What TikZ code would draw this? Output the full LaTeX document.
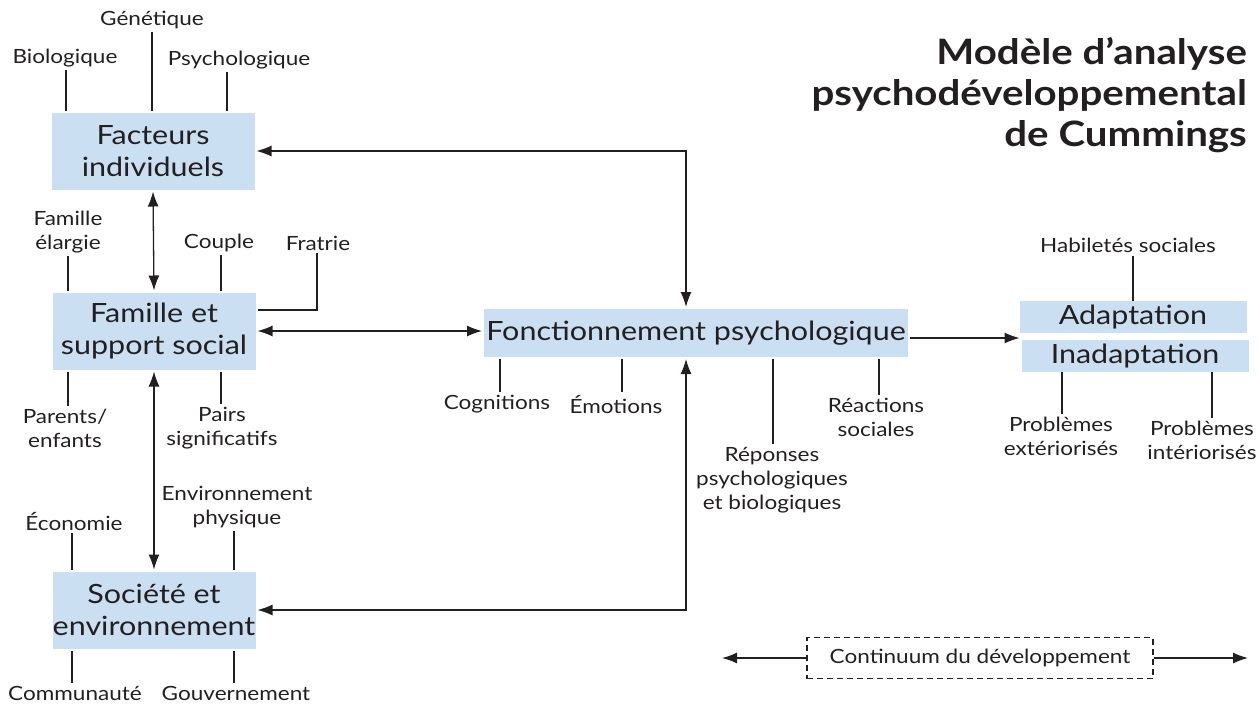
\documentclass[tikz,border=0pt]{standalone}
\usepackage{fontspec}
\setmainfont{Lato}[FakeStretch=1.15]
\usepackage{tikz}
\usetikzlibrary{arrows.meta,positioning,calc}
\definecolor{Boxblue}{HTML}{CADFF2}
\definecolor{Ink}{HTML}{231F20}
\tikzset{
    every node/.style={font=\fontsize{19.6}{24}\selectfont, text=Ink, align=center},
    factor/.style={
        fill=Boxblue, minimum width=203pt, minimum height=77pt,
        inner sep=0pt, outer sep=2pt,
        font=\fontsize{26.5}{32}\selectfont
    },
    outcome/.style={
        fill=Boxblue, minimum width=227pt, minimum height=32pt,
        inner sep=0pt, outer sep=0pt,
        font=\fontsize{26.5}{30}\selectfont
    },
    tag/.style={inner sep=3pt},
    tie/.style={draw=Ink, line width=1.2pt},
    link/.style={
        {Latex[length=15pt,width=11pt]}-{Latex[length=15pt,width=11pt]},
        draw=Ink, line width=1.3pt
    },
    flow/.style={
        -{Latex[length=15pt,width=11pt]}, draw=Ink, line width=1.3pt
    },
}

\begin{document}
\begin{tikzpicture}[x=1pt, y=-1pt]
    \useasboundingbox (0,0) rectangle (1258,705);

    % Nodes
    \node[factor] (facteurs) at (153,151) {Facteurs\\individuels};
    \node[factor] (famille) at (154,331) {Famille et\\support social};
    \node[factor] (societe) at (154,610) {Société et\\environnement};
    \node[factor, minimum width=424pt, minimum height=48pt] (fonct) at (696,333) {Fonctionnement psychologique};
    \node[outcome] (adapt) at (1133,317) {Adaptation};
    \node[outcome] (inadapt) at (1135,356) {Inadaptation};

    % Labels
    \node[tag] (biolog) at (65,58) {Biologique};
    \node[tag] (genet) at (152,20) {Génétique};
    \node[tag] (psycho) at (239,60) {Psychologique};
    \node[tag] (elargie) at (68,232) {Famille\\élargie};
    \node[tag] (couple) at (219,243) {Couple};
    \node[tag] (fratrie) at (318,243) {Fratrie};
    \node[tag] (parents) at (65,428) {Parents/\\enfants};
    \node[tag] (pairs) at (222,428) {Pairs\\significatifs};
    \node[tag] (econ) at (74,521) {Économie};
    \node[tag] (envphys) at (237,507) {Environnement\\physique};
    \node[tag] (commun) at (75,693) {Communauté};
    \node[tag] (gouv) at (236,693) {Gouvernement};
    \node[tag] (cogn) at (497,404) {Cognitions};
    \node[tag] (emot) at (616,404) {Émotions};
    \node[tag] (reponses) at (772,480) {Réponses\\psychologiques\\et biologiques};
    \node[tag] (reactions) at (876,417) {Réactions\\sociales};
    \node[tag] (habil) at (1128,245) {Habiletés sociales};
    \node[tag] (probext) at (1061,436) {Problèmes\\extériorisés};
    \node[tag] (probint) at (1202,440) {Problèmes\\intériorisés};

    % Title
    \node[anchor=north east, align=right, inner sep=0pt,
          font=\fontsize{35}{41}\selectfont\bfseries] (title) at (1247,37)
          {Modèle d’analyse\\psychodéveloppemental\\de Cummings};

    % Ties to the boxes
    \draw[tie] ([xshift=1pt]biolog.south) -- ([xshift=1pt]biolog.south |- facteurs.north);
    \draw[tie] (genet.south) -- (genet.south |- facteurs.north);
    \draw[tie] ([xshift=-12pt]psycho.south) -- ([xshift=-12pt]psycho.south |- facteurs.north);
    \draw[tie] (elargie.south) -- (elargie.south |- famille.north);
    \draw[tie] ([xshift=2pt]couple.south) -- ([xshift=2pt]couple.south |- famille.north);
    \draw[tie] ([yshift=21pt]famille.east) -| ([xshift=-1pt]fratrie.south);
    \draw[tie] ([xshift=3pt]parents.north) -- ([xshift=3pt]parents.north |- famille.south);
    \draw[tie] ([xshift=-1pt]pairs.north) -- ([xshift=-1pt]pairs.north |- famille.south);
    \draw[tie] ([xshift=-2pt]econ.south) -- ([xshift=-2pt]econ.south |- societe.north);
    \draw[tie] ([xshift=-3pt]envphys.south) -- ([xshift=-3pt]envphys.south |- societe.north);
    \draw[tie] ([xshift=-3pt]commun.north) -- ([xshift=-3pt]commun.north |- societe.south);
    \draw[tie] ([xshift=-2pt]gouv.north) -- ([xshift=-2pt]gouv.north |- societe.south);
    \draw[tie] ([xshift=3pt]cogn.north) -- ([xshift=3pt]cogn.north |- fonct.south);
    \draw[tie] ([xshift=6pt]emot.north) -- ([xshift=6pt]emot.north |- fonct.south);
    \draw[tie] ([xshift=1pt]reponses.north) -- ([xshift=1pt]reponses.north |- fonct.south);
    \draw[tie] ([xshift=3pt]reactions.north) -- ([xshift=3pt]reactions.north |- fonct.south);
    \draw[tie] (adapt.north) -- (adapt.north |- habil.south);
    \draw[tie] ([xshift=1pt]probext.north) -- ([xshift=1pt]probext.north |- inadapt.south);
    \draw[tie] ([xshift=10pt]probint.north) -- ([xshift=10pt]probint.north |- inadapt.south);

    % Arrows
    \draw[link] (facteurs.south) -- (famille.north);
    \draw[link] (famille.south) -- (societe.north);
    \draw[link] (famille.east) -- (famille.east -| fonct.west);
    \draw[link] (facteurs.east) -| ([xshift=-10pt]fonct.north);
    \draw[link] (societe.east) -| ([xshift=-10pt]fonct.south);
    \draw[flow] ([yshift=-5pt]fonct.east) -- ([yshift=-5pt]fonct.east -| adapt.west);

    % Development continuum
    \node[draw=Ink, dash pattern=on 6pt off 4pt, line width=1.2pt, minimum width=346pt, minimum height=41pt] (continuum) at (980,658) {Continuum du développement};
    \coordinate (devleft) at (722,658);
    \coordinate (devright) at (1248,658);
    \draw[flow] (continuum.west) -- (devleft);
    \draw[flow] (continuum.east) -- (devright);
\end{tikzpicture}
\end{document}
